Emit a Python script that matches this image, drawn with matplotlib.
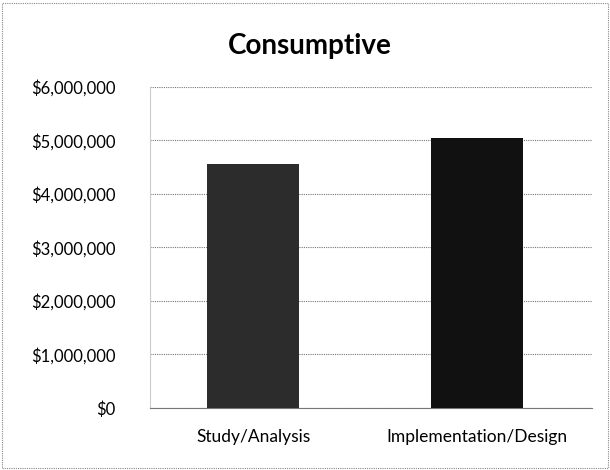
import matplotlib
matplotlib.use("Agg")
import matplotlib.pyplot as plt
from matplotlib.ticker import FuncFormatter
from matplotlib.patches import Rectangle

categories = ["Study/Analysis", "Implementation/Design"]
values = [4560000, 5050000]
bar_colors = ["#2c2c2c", "#111111"]
yticks = [0, 1000000, 2000000, 3000000, 4000000, 5000000, 6000000]
title = "Consumptive"

plt.rcParams['font.family'] = ['Lato', 'DejaVu Sans']

fig = plt.figure(figsize=(6.10, 4.70), dpi=100)
ax = fig.add_axes([0.246, 0.132, 0.724, 0.683])

x = list(range(len(categories)))
ax.bar(x, values, width=0.41, color=bar_colors, zorder=3)
ax.set_xlim(-0.46, 1.51)
ax.set_ylim(0, 6000000)
ax.set_yticks(yticks)
ax.yaxis.set_major_formatter(FuncFormatter(lambda v, p: "$0" if v == 0 else "${:,.0f}".format(v)))
ax.set_xticks(x)
ax.set_xticklabels(categories)
ax.tick_params(axis='both', length=0, colors='black')
ax.tick_params(axis='y', pad=25, labelsize=12)
ax.tick_params(axis='x', pad=15, labelsize=12.5)
ax.grid(axis='y', color='#777777', linestyle=(0, (1, 1)), linewidth=0.8, zorder=0)
for s in ['top', 'right']:
    ax.spines[s].set_visible(False)
ax.spines['left'].set_color('#cccccc')
ax.spines['left'].set_linestyle((0, (1, 1)))
ax.spines['left'].set_linewidth(0.8)
ax.spines['bottom'].set_color('#777777')
ax.spines['bottom'].set_linewidth(0.8)

fig.text(0.508, 0.903, title, ha='center', va='center', fontsize=20, fontweight='bold')

fig.patches.append(Rectangle((0.004, 0.004), 0.992, 0.99, transform=fig.transFigure,
                             fill=False, edgecolor='#888888', linestyle=(0, (1, 1)), linewidth=0.8))

fig.savefig("out.png", dpi=100)
